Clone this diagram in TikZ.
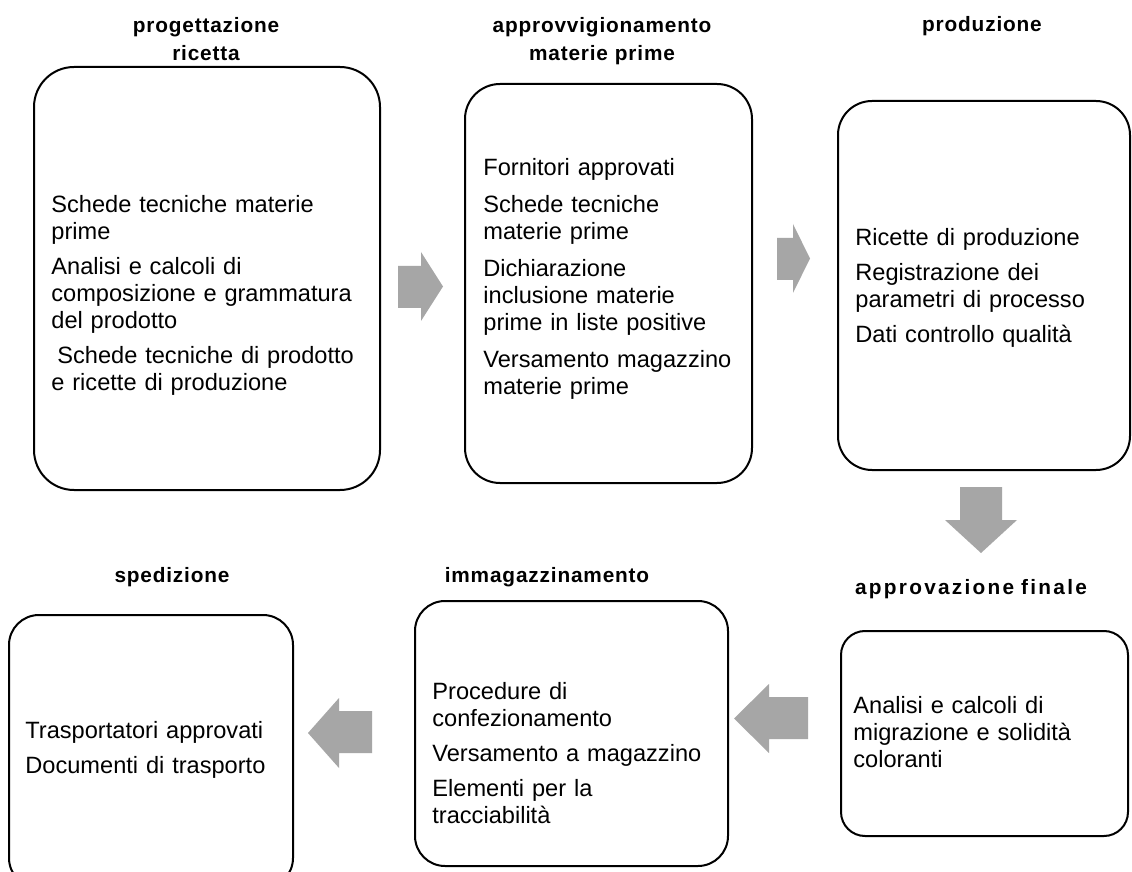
\documentclass[tikz,border=0pt]{standalone}
\usepackage{fontspec}
\setmainfont{Liberation Sans}
\newfontfamily\titlefont[LetterSpace=4]{Liberation Sans}
\newfontfamily\widetitlefont[LetterSpace=11]{Liberation Sans}
\definecolor{arrowgray}{RGB}{166,166,166}
\tikzset{
  stagebox/.style={draw=black, line width=1pt, rectangle, inner sep=0pt, fill=none},
  stagetitle/.style={inner sep=0pt, anchor=base, text width=200pt, align=center,
    font=\titlefont\bfseries\fontsize{10.4pt}{14pt}\selectfont},
  stagetext/.style={inner sep=0pt, anchor=base west, text width=160pt, align=left,
    font=\fontsize{11.8pt}{13.5pt}\selectfont},
  blockarrow/.style={fill=arrowgray, draw=none}
}
\begin{document}
\begin{tikzpicture}[x=0.5pt, y=-0.5pt]
\useasboundingbox (0,0) rectangle (1132,872);
\fill[white] (0,0) rectangle (1132,872);

% stage boxes
\node[stagebox, minimum width=173pt, minimum height=211.5pt, rounded corners=20pt] (b1) at (207,278.5) {};
\node[stagebox, minimum width=143.5pt, minimum height=199.5pt, rounded corners=17.5pt] (b2) at (608.5,283.5) {};
\node[stagebox, minimum width=146pt, minimum height=184.5pt, rounded corners=17pt] (b3) at (984,285.5) {};
\node[stagebox, minimum width=143.5pt, minimum height=102.5pt, rounded corners=12pt] (b4) at (984.5,733.5) {};
\node[stagebox, minimum width=156.5pt, minimum height=132.5pt, rounded corners=15pt] (b5) at (571.5,733.5) {};
\node[stagebox, minimum width=142pt, minimum height=136.5pt, rounded corners=15pt] (b6) at (151,751.5) {};

% stage titles
\node[stagetitle] (t1) at (206,33) {progettazione\\ricetta};
\node[stagetitle] (t2) at (602,33) {approvvigionamento\\materie prime};
\node[stagetitle] (t3) at (982,32) {produzione};
\node[stagetitle, font=\widetitlefont\bfseries\fontsize{10.4pt}{14pt}\selectfont] (t4) at (971,594) {approvazione finale};
\node[stagetitle] (t5) at (547,582) {immagazzinamento};
\node[stagetitle] (t6) at (172,582) {spedizione};

% stage contents
\node[stagetext] (c1) at (51,213) {Schede tecniche materie\\prime\\[4pt]
  Analisi e calcoli di\\composizione e grammatura\\del prodotto\\[4pt]
  \hspace{3pt}Schede tecniche di prodotto\\e ricette di produzione};
\node[stagetext] (c2) at (483,176) {Fornitori approvati\\[5pt]
  Schede tecniche\\materie prime\\[5pt]
  Dichiarazione\\inclusione materie\\prime in liste positive\\[5pt]
  Versamento magazzino\\materie prime};
\node[stagetext] (c3) at (855,246) {Ricette di produzione\\[4pt]
  Registrazione dei\\parametri di processo\\[4pt]
  Dati controllo qualità};
\node[stagetext] (c4) at (853,713) {Analisi e calcoli di\\migrazione e solidità\\coloranti};
\node[stagetext] (c5) at (432,699) {Procedure di\\confezionamento\\[4pt]
  Versamento a magazzino\\[4pt]
  Elementi per la\\tracciabilità};
\node[stagetext] (c6) at (25,738) {Trasportatori approvati\\[4pt]
  Documenti di trasporto};

% block arrows between the stages
\fill[blockarrow] (398,266) -- (421,266) -- (421,252) -- (443,286.5) -- (421,321) -- (421,308) -- (398,308) -- cycle;
\fill[blockarrow] (777,238) -- (793,238) -- (793,224) -- (810,258.5) -- (793,293) -- (793,280) -- (777,280) -- cycle;
\fill[blockarrow] (960,487) -- (1002,487) -- (1002,520) -- (1017,520) -- (981,553) -- (945,520) -- (960,520) -- cycle;
\fill[blockarrow] (808,697) -- (769,697) -- (769,684) -- (734,718.5) -- (769,753) -- (769,739) -- (808,739) -- cycle;
\fill[blockarrow] (372,711) -- (339,711) -- (339,698) -- (308,733) -- (339,768) -- (339,753) -- (372,753) -- cycle;
\end{tikzpicture}
\end{document}
